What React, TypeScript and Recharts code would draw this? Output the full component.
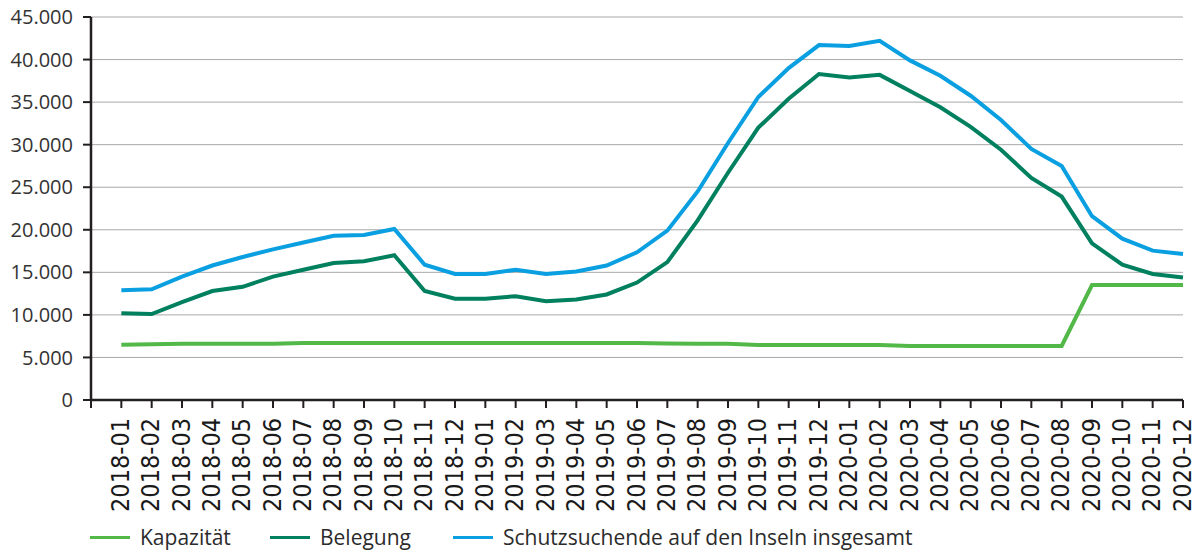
import { LineChart, Line, XAxis, YAxis, CartesianGrid, Legend } from 'recharts';

const months = [
  '2018-01', '2018-02', '2018-03', '2018-04', '2018-05', '2018-06',
  '2018-07', '2018-08', '2018-09', '2018-10', '2018-11', '2018-12',
  '2019-01', '2019-02', '2019-03', '2019-04', '2019-05', '2019-06',
  '2019-07', '2019-08', '2019-09', '2019-10', '2019-11', '2019-12',
  '2020-01', '2020-02', '2020-03', '2020-04', '2020-05', '2020-06',
  '2020-07', '2020-08', '2020-09', '2020-10', '2020-11', '2020-12',
];

const kapazitaet = [
  6500, 6550, 6600, 6600, 6600, 6600, 6700, 6700, 6700, 6700, 6700, 6700,
  6700, 6700, 6700, 6700, 6700, 6700, 6650, 6600, 6600, 6450, 6450, 6450,
  6450, 6450, 6350, 6350, 6350, 6350, 6350, 6350, 13500, 13500, 13500, 13500,
];

const belegung = [
  10200, 10100, 11500, 12800, 13300, 14500, 15300, 16100, 16300, 17000, 12800, 11900,
  11900, 12200, 11600, 11800, 12400, 13800, 16200, 21100, 26700, 32000, 35400, 38300,
  37900, 38200, 36300, 34400, 32100, 29400, 26100, 23900, 18400, 15900, 14800, 14400,
];

const schutzsuchende = [
  12900, 13000, 14500, 15800, 16800, 17700, 18500, 19300, 19400, 20100, 15900, 14800,
  14800, 15300, 14800, 15100, 15800, 17350, 19900, 24500, 30200, 35600, 39000, 41700,
  41600, 42200, 39900, 38100, 35750, 32900, 29500, 27500, 21600, 18950, 17550, 17150,
];

const yTicks = [0, 5000, 10000, 15000, 20000, 25000, 30000, 35000, 40000, 45000];

const data = months.map((m, i) => ({
  idx: i + 1,
  month: m,
  kapazitaet: kapazitaet[i],
  belegung: belegung[i],
  schutzsuchende: schutzsuchende[i],
}));

const xTicks = Array.from({ length: months.length + 1 }, (_, i) => i);

const COLORS = {
  kapazitaet: '#52b848',
  belegung: '#00805f',
  schutzsuchende: '#0a9fe0',
};

const legendItems = [
  { key: 'kapazitaet', label: 'Kapazität', width: 180 },
  { key: 'belegung', label: 'Belegung', width: 183 },
  { key: 'schutzsuchende', label: 'Schutzsuchende auf den Inseln insgesamt', width: 500 },
];

const fmt = (v: number) => String(v).replace(/\B(?=(\d{3})+(?!\d))/g, '.');

const MonthTick = (props: any) => {
  const { x, y, payload } = props;
  const label = months[payload.value - 1];
  if (!label) return null;
  return (
    <g transform={`translate(${x},${y + 8})`}>
      <text
        transform="rotate(-90)"
        textAnchor="end"
        dy="0.3em"
        fill="#1a1a1a"
        style={{ fontFamily: '"Liberation Sans Narrow", "Arial Narrow", "DejaVu Sans Condensed", sans-serif', fontSize: 25 }}
      >
        {label}
      </text>
    </g>
  );
};

const LegendContent = () => (
  <div style={{ display: 'flex', alignItems: 'center', height: 34, paddingLeft: 90, fontFamily: '"Open Sans", sans-serif', fontSize: 21, color: '#2b2b2b' }}>
    {legendItems.map((it) => (
      <div key={it.key} style={{ display: 'flex', alignItems: 'center', width: it.width, flexShrink: 0 }}>
        <span style={{ display: 'inline-block', width: 40, height: 3, background: (COLORS as any)[it.key], marginRight: 10 }} />
        <span style={{ whiteSpace: 'nowrap' }}>{it.label}</span>
      </div>
    ))}
  </div>
);

export default function App() {
  return (
    <div style={{ position: 'absolute', left: 0, top: 0, background: '#fff' }}>
      <LineChart width={1203} height={554} data={data} margin={{ top: 17, right: 20, left: 0, bottom: 0 }}>
        <CartesianGrid horizontal vertical={false} stroke="#a8a8a8" strokeWidth={1} />
        <XAxis
          type="number"
          dataKey="idx"
          domain={[0, months.length]}
          ticks={xTicks}
          interval={0}
          height={120}
          tick={<MonthTick />}
          tickSize={8}
          axisLine={{ stroke: '#231f20', strokeWidth: 2.5 }}
          tickLine={{ stroke: '#231f20', strokeWidth: 2 }}
        />
        <YAxis
          type="number"
          domain={[0, 45000]}
          ticks={yTicks}
          interval={0}
          width={91}
          tickFormatter={fmt}
          tickSize={8}
          tickMargin={10}
          axisLine={{ stroke: '#231f20', strokeWidth: 2.5 }}
          tickLine={{ stroke: '#231f20', strokeWidth: 2 }}
          tick={{ fill: '#333333', fontSize: 20, fontFamily: '"Open Sans", sans-serif' }}
        />
        <Legend verticalAlign="bottom" align="left" content={<LegendContent />} wrapperStyle={{ height: 34 }} />
        <Line type="linear" dataKey="kapazitaet" name="Kapazität" stroke={COLORS.kapazitaet} strokeWidth={4} dot={false} isAnimationActive={false} />
        <Line type="linear" dataKey="belegung" name="Belegung" stroke={COLORS.belegung} strokeWidth={4} dot={false} isAnimationActive={false} />
        <Line type="linear" dataKey="schutzsuchende" name="Schutzsuchende auf den Inseln insgesamt" stroke={COLORS.schutzsuchende} strokeWidth={4} dot={false} isAnimationActive={false} />
      </LineChart>
    </div>
  );
}
